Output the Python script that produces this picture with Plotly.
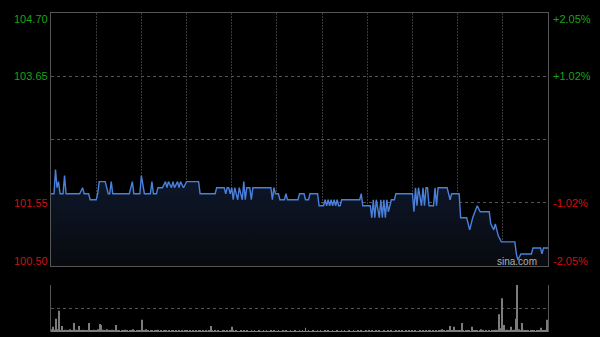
import plotly.graph_objects as go

# ---- data (minutes since open, HK session 330 min) ----
price_min = [0, 2, 3, 4, 5, 6, 8, 9, 10, 19, 21, 22, 25, 26, 30, 31, 32, 36, 38, 39, 40, 41,
             52, 54, 55, 59, 60, 62, 66, 67, 68, 70, 71, 74, 76, 77, 78, 80, 81, 82, 84, 85, 86,
             88, 90, 98, 99, 109, 110, 115, 116, 117, 118, 119, 120, 121, 122, 124, 125, 127,
             128, 129, 130, 132, 133, 134, 137, 146, 147, 148, 149, 151, 152, 155, 156, 157,
             164, 165, 168, 169, 171, 172, 177, 178, 181, 182, 183, 184, 185, 186, 187, 188,
             189, 190, 191, 192, 193, 205, 206, 207, 212, 213, 214, 215, 216, 218, 219, 220,
             221, 222, 223, 224, 225, 226, 228, 229, 240, 241, 242, 243, 244, 246, 247, 248,
             249, 250, 251, 254, 255, 256, 257, 263, 265, 266, 271, 272, 276, 278, 280, 283,
             285, 291, 292, 294, 295, 297, 299, 308, 309, 310, 312, 319, 320, 325, 326, 327, 330]
price_val = [101.7, 101.7, 102.1, 101.8, 101.9, 101.7, 101.7, 102.0, 101.7, 101.7, 101.8, 101.7,
             101.7, 101.6, 101.6, 101.7, 101.9, 101.9, 101.7, 101.7, 101.9, 101.7,
             101.7, 101.9, 101.7, 101.7, 102.0, 101.7, 101.7, 101.9, 101.7, 101.7, 101.8, 101.8,
             101.9, 101.8, 101.9, 101.8, 101.9, 101.8, 101.9, 101.8, 101.9,
             101.8, 101.9, 101.9, 101.7, 101.7, 101.8, 101.8, 101.7, 101.8, 101.8, 101.7, 101.8,
             101.6, 101.8, 101.6, 101.8, 101.6,
             101.9, 101.6, 101.8, 101.8, 101.6, 101.8, 101.8, 101.8, 101.6, 101.8, 101.7, 101.7,
             101.6, 101.6, 101.7, 101.6,
             101.6, 101.7, 101.7, 101.6, 101.6, 101.7, 101.7, 101.5, 101.5, 101.6, 101.5, 101.6,
             101.5, 101.6, 101.5, 101.6,
             101.5, 101.6, 101.5, 101.5, 101.6, 101.6, 101.7, 101.5, 101.5, 101.3, 101.6, 101.3,
             101.6, 101.3, 101.6, 101.3,
             101.6, 101.3, 101.6, 101.4, 101.5, 101.6, 101.6, 101.7, 101.7, 101.4, 101.8, 101.5,
             101.8, 101.5, 101.8, 101.5,
             101.8, 101.8, 101.5, 101.5, 101.8, 101.5, 101.8, 101.8, 101.6, 101.7, 101.7, 101.3,
             101.3, 101.1, 101.3, 101.5,
             101.4, 101.4, 101.2, 101.1, 101.2, 101.0, 100.9, 100.9, 100.7, 100.6, 100.7, 100.7,
             100.8, 100.8, 100.7, 100.8, 100.8]

volume = [
    6, 11, 5, 28, 6, 45, 4, 13, 3, 5, 4, 3, 6, 4, 3, 19, 5, 4, 13, 4, 3, 5, 3, 4, 3, 19, 4, 3, 5, 4,
    3, 6, 17, 15, 5, 4, 3, 6, 4, 3, 5, 3, 4, 15, 4, 3, 2, 4, 3, 5, 3, 2, 4, 3, 6, 3, 2, 3, 4, 3,
    26, 4, 3, 6, 3, 2, 3, 4, 2, 3, 3, 5, 2, 3, 2, 4, 3, 2, 3, 2, 3, 4, 2, 3, 2, 3, 2, 4, 2, 3,
    3, 2, 3, 2, 4, 2, 3, 2, 3, 4, 2, 3, 2, 3, 2, 3, 13, 3, 2, 3, 2, 3, 2, 2, 3, 4, 2, 3, 2, 3,
    11, 3, 2, 3, 2, 2, 3, 2, 3, 2, 3, 2, 2, 3, 2, 3, 2, 2, 3, 2, 2, 3, 2, 3, 2, 2, 3, 2, 3, 2,
    2, 3, 2, 2, 3, 2, 3, 2, 2, 3, 2, 2, 3, 2, 2, 3, 2, 3, 2, 9, 2, 3, 2, 2, 3, 2, 2, 3, 2, 3,
    2, 2, 3, 2, 3, 2, 2, 3, 2, 2, 3, 2, 2, 3, 2, 3, 2, 2, 3, 2, 2, 3, 2, 2, 3, 2, 3, 2, 2, 3,
    2, 3, 2, 3, 2, 2, 3, 2, 3, 2, 2, 3, 2, 2, 3, 2, 3, 2, 2, 3, 2, 3, 2, 3, 2, 2, 3, 2, 3, 2,
    3, 2, 3, 2, 2, 3, 2, 3, 2, 3, 2, 3, 3, 2, 3, 2, 3, 2, 3, 3, 6, 3, 2, 3, 4, 13, 3, 4, 11, 3,
    3, 4, 3, 19, 3, 2, 4, 3, 3, 2, 11, 3, 4, 3, 2, 3, 6, 3, 2, 3, 2, 3, 2, 3, 4, 3, 5, 4, 38, 8,
    72, 15, 4, 5, 3, 4, 11, 3, 5, 28, 100, 6, 4, 19, 5, 3, 4, 3, 2, 3, 4, 3, 2, 3, 4, 3, 9, 3, 4, 5,
    26]
vol_min = list(range(len(volume)))

prev_close = 102.60
y_ticks = [104.70, 103.65, 102.60, 101.55, 100.50]
left_labels = ["104.70", "103.65", "", "101.55", "100.50"]
right_labels = ["+2.05%", "+1.02%", "", "-1.02%", "-2.05%"]
x_grid = [30, 60, 90, 120, 150, 180, 210, 240, 270, 300]

GREEN = "#16a316"
RED = "#d01010"
FONT = "Arial, Liberation Sans, sans-serif"

fig = go.Figure()
fig.add_trace(go.Scatter(
    x=price_min, y=price_val, mode="lines",
    line=dict(color="#4a80dc", width=1.4),
    fill="tozeroy",
    fillgradient=dict(type="vertical", start=100.5, stop=102.1,
                      colorscale=[[0, "rgb(8,10,15)"], [1, "rgb(14,24,44)"]]),
    hoverinfo="skip", xaxis="x", yaxis="y"))
fig.add_trace(go.Bar(
    x=vol_min, y=volume, marker=dict(color="#7c7c7c", line=dict(width=0)),
    hoverinfo="skip", xaxis="x2", yaxis="y2"))

H = 337
top, bot = 13, 5
ph = H - top - bot
main_dom = [(332 - 266) / ph, 1.0]
vol_dom = [0.0, (332 - 285) / ph]

annotations = []
for v, lt, rt in zip(y_ticks, left_labels, right_labels):
    if not lt:
        continue
    col = GREEN if v > prev_close else RED
    shift = 0
    if v == y_ticks[0]:
        shift = -6
    elif v == y_ticks[-1]:
        shift = 5
    annotations.append(dict(x=0, xref="paper", xanchor="right", xshift=-1, y=v, yref="y",
                            yshift=shift, yanchor="middle", text=lt, showarrow=False,
                            font=dict(color=col, size=11, family=FONT)))
    annotations.append(dict(x=1, xref="paper", xanchor="left", xshift=3, y=v, yref="y",
                            yshift=shift, yanchor="middle", text=rt, showarrow=False,
                            font=dict(color=col, size=11, family=FONT)))
annotations.append(dict(x=0.982, xref="paper", xanchor="right", y=100.50, yref="y",
                        yshift=5, yanchor="middle", text="sina.com", showarrow=False,
                        font=dict(color="#b0b0b0", size=10, family=FONT)))

fig.update_layout(
    width=600, height=337,
    margin=dict(l=51, r=52, t=top, b=bot),
    paper_bgcolor="black", plot_bgcolor="black",
    showlegend=False, bargap=0.4,
    annotations=annotations,
    xaxis=dict(domain=[0, 1], range=[0, 330], tickvals=x_grid, showticklabels=False,
               showgrid=True, gridcolor="#3a3a3a", griddash="2px,1px", gridwidth=1,
               zeroline=False, showline=True, linecolor="#555", mirror=True, ticks=""),
    yaxis=dict(domain=main_dom, range=[100.50, 104.70], tickvals=y_ticks[1:4],
               showticklabels=False, showgrid=True, gridcolor="#555", griddash="dot",
               zeroline=False, showline=True, linecolor="#555", mirror=True, ticks=""),
    xaxis2=dict(domain=[0, 1], range=[-0.5, 330.5], anchor="y2", showticklabels=False,
                showgrid=False, zeroline=False, showline=False, ticks=""),
    yaxis2=dict(domain=vol_dom, range=[0, 100], tickvals=[0, 50, 100], anchor="x2",
                showticklabels=False, showgrid=True, gridcolor="#555", griddash="dot",
                zeroline=False, showline=True, linecolor="#555", mirror=True, ticks=""),
)

fig.write_html("out.html")
